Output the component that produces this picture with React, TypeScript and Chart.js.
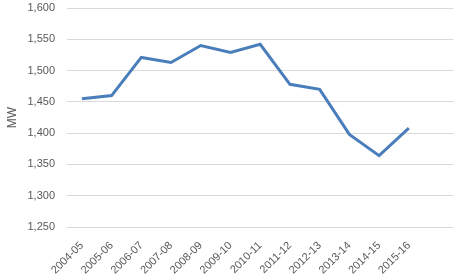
import React, { useEffect, useRef } from "react";
import { Chart, registerables } from "chart.js";

Chart.register(...registerables);

const categories = [
  "2004-05", "2005-06", "2006-07", "2007-08", "2008-09", "2009-10",
  "2010-11", "2011-12", "2012-13", "2013-14", "2014-15", "2015-16", "",
];
const mwValues: (number | null)[] = [
  1455, 1460, 1521, 1513, 1540, 1529, 1542, 1478, 1470, 1398, 1364, 1408, null,
];
const yMin = 1250;
const yMax = 1600;
const yStep = 50;
const yTitle = "MW";

export default function App() {
  const ref = useRef<HTMLCanvasElement | null>(null);

  useEffect(() => {
    document.body.style.margin = "0";
    const ctx = ref.current;
    if (!ctx) return;
    const textColor = "#595959";
    const font = { family: "'Liberation Sans', Arial, sans-serif", size: 11 };
    const chart = new Chart(ctx, {
      type: "line",
      data: {
        labels: categories,
        datasets: [
          {
            data: mwValues,
            borderColor: "#4A7EBB",
            borderWidth: 3,
            pointRadius: 0,
            pointHoverRadius: 0,
            fill: false,
            tension: 0,
            borderJoinStyle: "miter",
          },
        ],
      },
      options: {
        animation: false,
        responsive: false,
        maintainAspectRatio: false,
        layout: { autoPadding: false, padding: { left: 0, right: 3, top: 8, bottom: 0 } },
        plugins: { legend: { display: false }, tooltip: { enabled: false } },
        scales: {
          x: {
            type: "category",
            offset: true,
            grid: { display: false, drawTicks: false },
            border: { display: false },
            ticks: {
              color: textColor,
              font,
              minRotation: 45,
              maxRotation: 45,
              autoSkip: false,
              padding: 12,
            },
            afterFit: (s: any) => {
              s.height = 51;
              s.paddingTop = 0;
            },
          },
          y: {
            min: yMin,
            max: yMax,
            grid: { color: "#D9D9D9", lineWidth: 1, drawTicks: false },
            border: { display: false },
            ticks: {
              stepSize: yStep,
              color: textColor,
              font,
              padding: 12,
              callback: (v: any) => Number(v).toLocaleString("en-US"),
            },
            title: {
              display: true,
              text: yTitle,
              color: textColor,
              font: { family: "'Liberation Sans', Arial, sans-serif", size: 12 },
              padding: { top: 5, bottom: 0 },
            },
            afterFit: (s: any) => {
              s.width = 67;
              s.paddingTop = 0;
              s.paddingBottom = 0;
            },
          },
        },
      },
    });
    return () => chart.destroy();
  }, []);

  return (
    <div style={{ width: 460, height: 278 }}>
      <canvas ref={ref} width={460} height={278} style={{ display: "block" }} />
    </div>
  );
}
